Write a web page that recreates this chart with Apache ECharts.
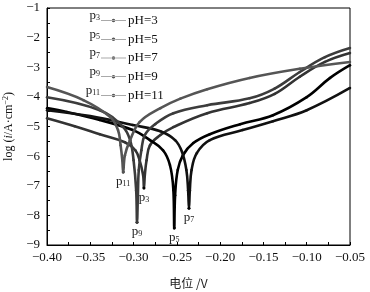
<!DOCTYPE html>
<html>
<head>
<meta charset="utf-8">
<script src="https://cdn.jsdelivr.net/npm/echarts@6/dist/echarts.min.js"></script>
<style>
  html, body { margin: 0; padding: 0; background: #fff; }
  #chart { width: 370px; height: 292px; }
</style>
</head>
<body>
<div id="chart"></div>
<script>
// potential (V) vs log(i)
var ph3 = [
    [-0.400, -4.72], [-0.368, -4.99], [-0.339, -5.26], [-0.310, -5.53], [-0.298, -5.80],
    [-0.293, -6.14], [-0.289, -6.64], [-0.288, -7.08],
    [-0.287, -6.64], [-0.285, -6.14], [-0.281, -5.63], [-0.269, -5.29], [-0.254, -5.02],
    [-0.215, -4.55], [-0.166, -4.21], [-0.137, -3.90], [-0.108, -3.32], [-0.079, -2.82], [-0.050, -2.52]
];
var ph5 = [
    [-0.400, -4.38], [-0.377, -4.51], [-0.339, -4.78], [-0.301, -5.12], [-0.281, -5.46],
    [-0.266, -5.80], [-0.258, -6.30], [-0.254, -7.15], [-0.253, -8.43],
    [-0.252, -7.32], [-0.249, -6.47], [-0.243, -5.97], [-0.231, -5.56], [-0.212, -5.26],
    [-0.177, -4.92], [-0.139, -4.62], [-0.100, -4.01], [-0.073, -3.36], [-0.050, -2.93]
];
var ph7 = [
    [-0.400, -4.45], [-0.350, -4.65], [-0.301, -4.95], [-0.269, -5.16], [-0.252, -5.46],
    [-0.244, -5.86], [-0.239, -6.47], [-0.237, -7.15], [-0.236, -7.76],
    [-0.235, -7.15], [-0.233, -6.47], [-0.227, -5.90], [-0.212, -5.46], [-0.174, -5.12],
    [-0.139, -4.82], [-0.100, -4.45], [-0.050, -3.70]
];
var ph9 = [
    [-0.400, -4.01], [-0.339, -4.45], [-0.312, -5.02], [-0.304, -5.46], [-0.300, -6.14],
    [-0.297, -7.15], [-0.296, -8.23],
    [-0.295, -7.32], [-0.294, -6.47], [-0.291, -5.80], [-0.287, -5.29], [-0.275, -4.92],
    [-0.254, -4.55], [-0.215, -4.28], [-0.166, -4.05], [-0.137, -3.72], [-0.108, -3.16],
    [-0.079, -2.66], [-0.050, -2.35]
];
var ph11 = [
    [-0.400, -3.67], [-0.358, -4.11], [-0.327, -4.68], [-0.318, -5.12], [-0.315, -5.63],
    [-0.313, -6.14], [-0.312, -6.54],
    [-0.310, -5.97], [-0.304, -5.46], [-0.293, -4.85], [-0.269, -4.38], [-0.246, -4.06],
    [-0.215, -3.74], [-0.166, -3.36], [-0.108, -3.05], [-0.050, -2.82]
];

var names = ['pH=3', 'pH=5', 'pH=7', 'pH=9', 'pH=11'];
var tags = ['3', '5', '7', '9', '11'];
var curves = [ph3, ph5, ph7, ph9, ph11];
var colors = ['#333333', '#000000', '#111111', '#3c3c3c', '#555555'];
// corrosion potential points (minimum of each curve)
var minPts = [[-0.288, -7.08], [-0.253, -8.43], [-0.236, -7.76], [-0.296, -8.23], [-0.312, -6.54]];

var serif = 'Liberation Serif';
var minus = function (s) { return s.replace('-', '\u2212'); };
var lineDot = 'path://M0,3.2 L25,3.2 L25,3.8 L0,3.8 Z M10.7,3.5 A1.8,1.8 0 1,0 14.3,3.5 A1.8,1.8 0 1,0 10.7,3.5 Z';

var ser = [];
for (var i = 0; i < curves.length; ++i) {
    ser.push({
        name: names[i],
        type: 'line',
        data: curves[i],
        smooth: 0.4,
        symbol: 'circle',
        symbolSize: 2.5,
        showSymbol: true,
        lineStyle: { width: 2.6, color: colors[i] },
        itemStyle: { color: colors[i] },
        z: 2 + i,
        markPoint: {
            symbol: 'circle',
            symbolSize: 3,
            itemStyle: { color: '#000' },
            data: [{ coord: minPts[i] }],
            label: {
                show: true,
                position: 'bottom',
                distance: 1,
                formatter: '{a|p}{s|' + tags[i] + '}',
                rich: {
                    a: { fontFamily: serif, fontSize: 13, color: '#222' },
                    s: { fontFamily: serif, fontSize: 8, color: '#222', padding: [5, 0, 0, 0] }
                }
            }
        }
    });
}

// one legend per row so the rows sit where the picture has them
var legends = [];
var pLabels = [];
for (var i = 0; i < names.length; ++i) {
    var cy = 16 + i * 18.75;
    legends.push({
        data: [{ name: names[i], icon: lineDot }],
        left: 101,
        top: cy - 2,
        padding: 0,
        itemWidth: 25,
        itemHeight: 4,
        itemStyle: { color: '#555' },
        textStyle: { fontFamily: serif, fontSize: 13, color: '#111', padding: [0, 0, 0, -3] }
    });
    pLabels.push({
        type: 'text',
        right: 370 - 100,
        top: cy - 7,
        style: {
            text: '{a|p}{s|' + tags[i] + '}',
            rich: {
                a: { fontFamily: serif, fontSize: 13, fill: '#222' },
                s: { fontFamily: serif, fontSize: 8, fill: '#222', padding: [5, 0, 0, 0] }
            }
        }
    });
}

var option = {
    animation: false,
    backgroundColor: '#fff',
    grid: { left: 47, right: 20, top: 8, bottom: 47, show: true, borderColor: '#000', borderWidth: 1, outerBoundsMode: 'none' },
    legend: legends,
    graphic: pLabels,
    xAxis: {
        type: 'value',
        min: -0.40,
        max: -0.05,
        interval: 0.05,
        name: '电位 /V',
        nameLocation: 'middle',
        nameGap: 32,
        nameTextStyle: { fontFamily: 'Noto Sans CJK SC', fontSize: 12, color: '#222', padding: [0, 20, 0, 0] },
        axisLine: { lineStyle: { color: '#000', width: 1 } },
        axisTick: { inside: true, length: 3, lineStyle: { color: '#000' } },
        minorTick: { show: true, splitNumber: 2, length: 3, lineStyle: { color: '#000' } },
        splitLine: { show: false },
        axisLabel: {
            margin: 6,
            fontFamily: serif, fontSize: 13, color: '#111',
            formatter: function (v) { return minus(v.toFixed(2)); }
        }
    },
    yAxis: {
        type: 'value',
        min: -9,
        max: -1,
        interval: 1,
        name: '{t|log (}{i|i}{t|/A·cm}{u|−2}{t|)}',
        nameLocation: 'middle',
        nameRotate: 90,
        nameGap: 26,
        nameTextStyle: {
            rich: {
                t: { fontFamily: serif, fontSize: 12, color: '#111' },
                i: { fontFamily: serif, fontSize: 12, fontStyle: 'italic', color: '#111' },
                u: { fontFamily: serif, fontSize: 8, color: '#111', padding: [0, 0, 6, 0] }
            }
        },
        axisLine: { show: true, lineStyle: { color: '#000', width: 1 } },
        axisTick: { inside: true, length: 3, lineStyle: { color: '#000' } },
        minorTick: { show: true, splitNumber: 2, length: 3, lineStyle: { color: '#000' } },
        splitLine: { show: false },
        axisLabel: {
            margin: 7,
            fontFamily: serif, fontSize: 13, color: '#111',
            formatter: function (v) { return minus(String(v)); }
        }
    },
    series: ser
};
echarts.init(document.getElementById('chart')).setOption(option);
</script>
</body>
</html>
